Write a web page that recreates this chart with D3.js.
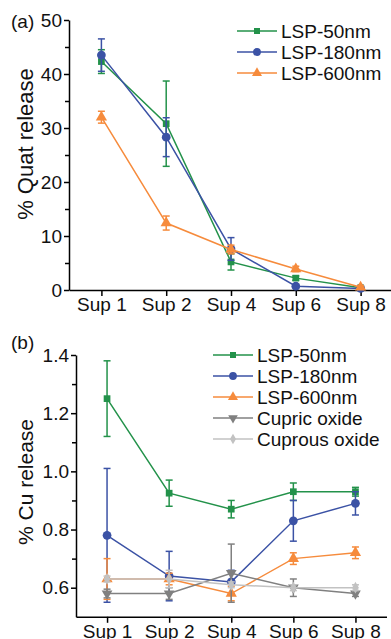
<!DOCTYPE html>
<html>
<head>
<meta charset="utf-8">
<script src="https://cdn.jsdelivr.net/npm/d3@7"></script>
<style>
  body { margin: 0; background: #fff; }
  svg { display: block; font-family: "Liberation Sans", Arial, sans-serif; }
</style>
</head>
<body>
<svg id="chart" width="391" height="639"></svg>
<script>
// categories shared by both panels
var categories = ['Sup 1', 'Sup 2', 'Sup 4', 'Sup 6', 'Sup 8'];

// panel (a) - % Quat release
var quatTicks = [0, 10, 20, 30, 40, 50];
var quatMinor = [5, 15, 25, 35, 45];
var quat50 = [42.3, 30.8, 5.2, 2.2, 0.4];
var quat50Err = [2.2, 7.9, 1.5, 0.4, 0.2];
var quat180 = [43.5, 28.3, 7.6, 0.7, 0.3];
var quat180Err = [3.0, 3.6, 2.1, 0.3, 0.2];
var quat600 = [32.0, 12.4, 7.5, 3.9, 0.5];
var quat600Err = [1.1, 1.3, 0.8, 0.5, 0.3];

// panel (b) - % Cu release
var cuTicks = [0.6, 0.8, 1.0, 1.2, 1.4];
var cuMinor = [0.7, 0.9, 1.1, 1.3];
var cu50 = [1.25, 0.925, 0.87, 0.93, 0.93];
var cu50Err = [0.13, 0.045, 0.03, 0.03, 0.015];
var cu180 = [0.78, 0.64, 0.62, 0.83, 0.89];
var cu180Err = [0.23, 0.085, 0.04, 0.07, 0.04];
var cu600 = [0.63, 0.63, 0.58, 0.70, 0.72];
var cu600Err = [0.07, 0.02, 0.025, 0.02, 0.02];
var cupric = [0.58, 0.58, 0.65, 0.60, 0.58];
var cupricErr = [0.015, 0.02, 0.10, 0.03, 0.01];
var cuprous = [0.63, 0.63, 0.61, 0.60, 0.60];
var cuprousErr = [0.01, 0.03, 0.01, 0.01, 0.01];

var green = '#23924a',
    blue = '#3b52a5',
    orange = '#f68b3c',
    darkGray = '#808080',
    lightGray = '#c2c2c2';

var svg = d3.select('#chart');

// symbol type + rotation
var symbols = {
    square: [d3.symbolSquare, 0],
    circle: [d3.symbolCircle, 0],
    triangle: [d3.symbolTriangle, 0],
    down: [d3.symbolTriangle, 180],
    diamond: [d3.symbolDiamond, 0]
};

function marker(sel, shape, size, cx, cy) {
    sel.attr('transform', function(d, i) {
            return 'translate(' + cx(d, i) + ',' + cy(d, i) + ') rotate(' + symbols[shape][1] + ')';
        })
        .attr('d', d3.symbol().type(symbols[shape][0]).size(size));
}

function drawPanel(cfg) {
    var g = svg.append('g');

    var x = d3.scalePoint()
        .domain(categories)
        .range([cfg.left, cfg.right])
        .padding(0.5);

    var y = d3.scaleLinear()
        .domain(cfg.domain)
        .range([cfg.bottom, cfg.top]);

    // minor ticks
    g.append('g')
        .attr('transform', 'translate(' + cfg.left + ',0)')
        .call(d3.axisLeft(y).tickValues(cfg.minor).tickSize(4).tickFormat(''))
        .call(function(a) { a.select('.domain').remove(); })
        .selectAll('line').attr('stroke', '#000').attr('stroke-width', 1.5);

    var yAxis = g.append('g')
        .attr('transform', 'translate(' + cfg.left + ',0)')
        .call(d3.axisLeft(y).tickValues(cfg.ticks).tickSize(5).tickSizeOuter(0)
            .tickPadding(2).tickFormat(cfg.format));

    var xAxis = g.append('g')
        .attr('transform', 'translate(0,' + cfg.bottom + ')')
        .call(d3.axisBottom(x).tickSize(6).tickSizeOuter(0).tickPadding(2));

    [yAxis, xAxis].forEach(function(a) {
        a.selectAll('path, line').attr('stroke', '#000').attr('stroke-width', 1.5);
        a.selectAll('text').attr('font-size', 19).attr('fill', '#111')
            .attr('font-family', '"Liberation Sans", Arial, sans-serif');
    });

    g.append('text')
        .attr('transform', 'translate(' + cfg.titleX + ',' + cfg.titleY + ') rotate(-90)')
        .attr('text-anchor', 'middle')
        .attr('font-size', cfg.titleSize)
        .attr('fill', '#111')
        .text(cfg.title);

    g.append('text')
        .attr('x', 11)
        .attr('y', cfg.labelY)
        .attr('font-size', 19)
        .attr('fill', '#111')
        .text(cfg.label);

    var line = d3.line()
        .x(function(d, i) { return x(categories[i]); })
        .y(function(d) { return y(d); });

    cfg.series.forEach(function(s) {
        var sg = g.append('g');
        sg.append('path')
            .datum(s.values)
            .attr('fill', 'none')
            .attr('stroke', s.color)
            .attr('stroke-width', 1.5)
            .attr('d', line);

        var err = sg.selectAll('.err')
            .data(s.values)
            .enter().append('g');
        err.append('line')
            .attr('x1', function(d, i) { return x(categories[i]); })
            .attr('x2', function(d, i) { return x(categories[i]); })
            .attr('y1', function(d, i) { return y(d - s.err[i]); })
            .attr('y2', function(d, i) { return y(d + s.err[i]); });
        [-1, 1].forEach(function(sign) {
            err.append('line')
                .attr('x1', function(d, i) { return x(categories[i]) - 3.5; })
                .attr('x2', function(d, i) { return x(categories[i]) + 3.5; })
                .attr('y1', function(d, i) { return y(d + sign * s.err[i]); })
                .attr('y2', function(d, i) { return y(d + sign * s.err[i]); });
        });
        err.selectAll('line')
            .attr('stroke', s.color)
            .attr('stroke-width', 1.5);

        sg.selectAll('.mark')
            .data(s.values)
            .enter().append('path')
            .attr('fill', s.color)
            .call(marker, s.shape, s.size,
                function(d, i) { return x(categories[i]); },
                function(d) { return y(d); });
    });

    // legend
    cfg.series.forEach(function(s, i) {
        var ly = cfg.legendY + i * 21;
        var lg = g.append('g');
        lg.append('line')
            .attr('x1', cfg.legendX)
            .attr('x2', cfg.legendX + 40)
            .attr('y1', ly)
            .attr('y2', ly)
            .attr('stroke', s.color)
            .attr('stroke-width', 1.5);
        lg.append('path')
            .datum(0)
            .attr('fill', s.color)
            .call(marker, s.shape, s.size * 0.8,
                function() { return cfg.legendX + 20; },
                function() { return ly; });
        lg.append('text')
            .attr('x', cfg.legendX + 44)
            .attr('y', ly)
            .attr('dy', '0.35em')
            .attr('font-size', 19)
            .attr('fill', '#111')
            .text(s.name);
    });
}

drawPanel({
    left: 69, right: 393, top: 20, bottom: 290,
    domain: [0, 50],
    ticks: quatTicks,
    minor: quatMinor,
    format: d3.format('d'),
    title: '% Quat release', titleSize: 22,
    titleX: 33, titleY: 144,
    label: '(a)', labelY: 28,
    legendX: 237, legendY: 31,
    series: [
        { name: 'LSP-50nm', values: quat50, err: quat50Err, color: green, shape: 'square', size: 45 },
        { name: 'LSP-180nm', values: quat180, err: quat180Err, color: blue, shape: 'circle', size: 60 },
        { name: 'LSP-600nm', values: quat600, err: quat600Err, color: orange, shape: 'triangle', size: 55 }
    ]
});

drawPanel({
    left: 76, right: 386.5, top: 355, bottom: 616.8,
    domain: [0.5, 1.4],
    ticks: cuTicks,
    minor: cuMinor,
    format: d3.format('.1f'),
    title: '% Cu release', titleSize: 21,
    titleX: 33, titleY: 482,
    label: '(b)', labelY: 349,
    legendX: 213, legendY: 355,
    series: [
        { name: 'LSP-50nm', values: cu50, err: cu50Err, color: green, shape: 'square', size: 45 },
        { name: 'LSP-180nm', values: cu180, err: cu180Err, color: blue, shape: 'circle', size: 60 },
        { name: 'LSP-600nm', values: cu600, err: cu600Err, color: orange, shape: 'triangle', size: 55 },
        { name: 'Cupric oxide', values: cupric, err: cupricErr, color: darkGray, shape: 'down', size: 50 },
        { name: 'Cuprous oxide', values: cuprous, err: cuprousErr, color: lightGray, shape: 'diamond', size: 40 }
    ]
});
</script>
</body>
</html>
